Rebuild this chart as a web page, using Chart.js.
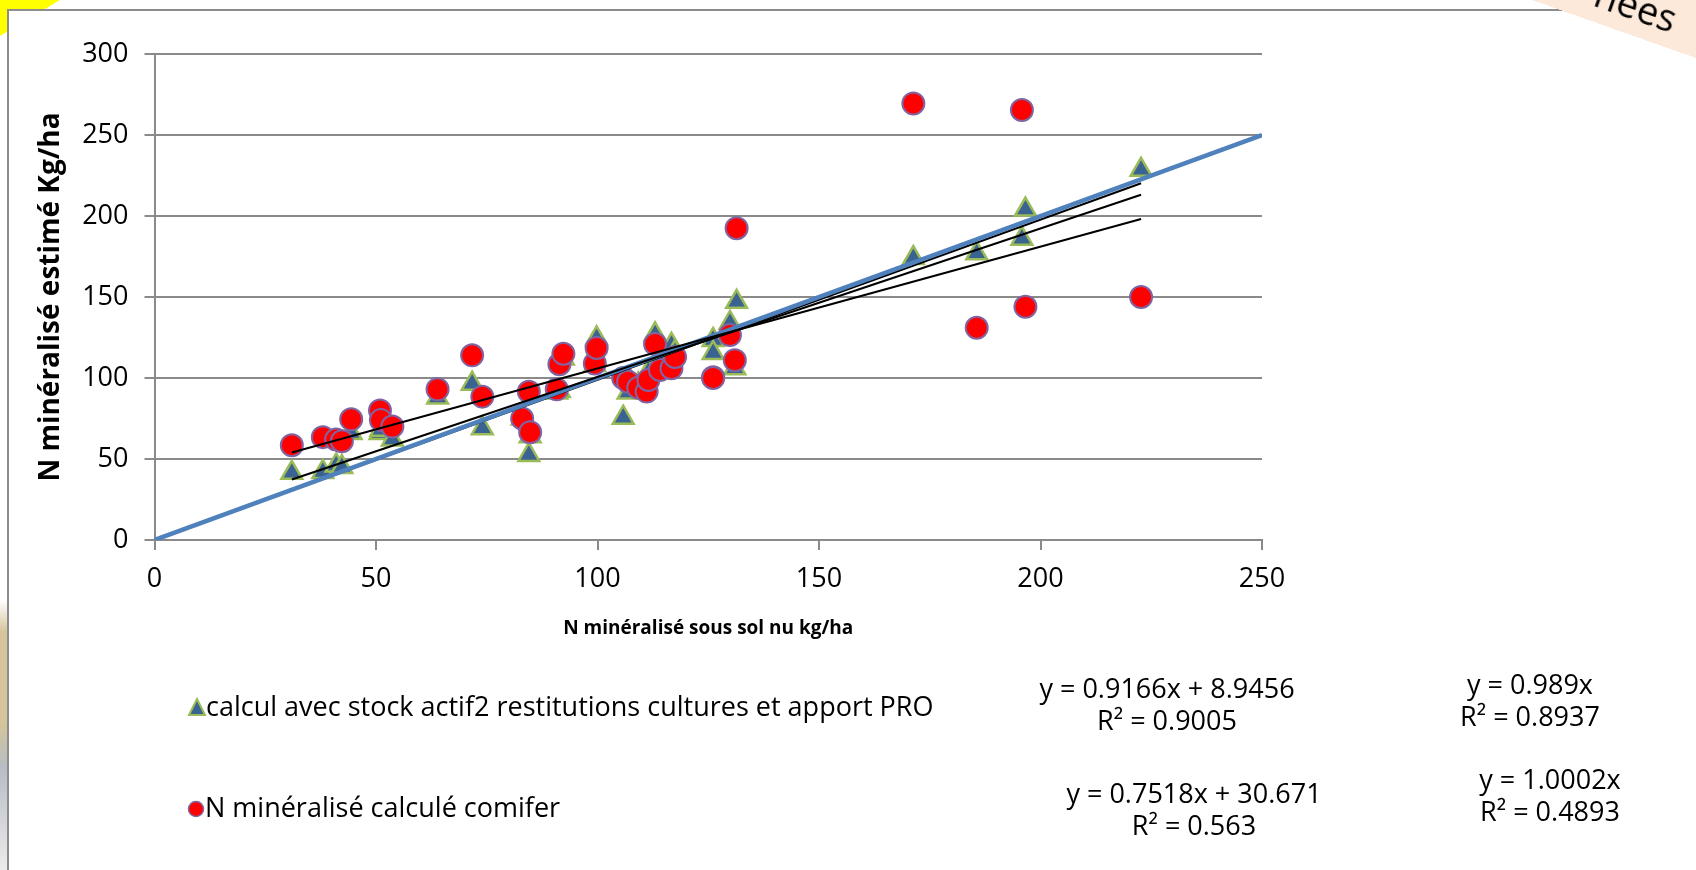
<!DOCTYPE html>
<html lang="fr">
<head>
<meta charset="utf-8">
<title>N minéralisé estimé vs sol nu</title>
<script src="https://cdn.jsdelivr.net/npm/chart.js@4.4.1/dist/chart.umd.min.js"></script>
<style>
  html, body { margin: 0; padding: 0; background: #fff; overflow: hidden; }
  #page { position: relative; width: 1696px; height: 870px; overflow: hidden; background: #fff; }
  #corner { position: absolute; left: 0; top: 0; width: 80px; height: 40px; background: #ffff00;
            clip-path: polygon(0 0, 60px 0, 0 36px); }
  #sideStrip { position: absolute; left: 0; top: 600px; width: 9px; height: 270px;
               background: linear-gradient(#fff 0%, #d6c49a 12%, #d6c49a 45%, #b8bcc4 62%, #ececec 100%); }
  #frame { position: absolute; left: 7px; top: 9px; width: 1800px; height: 1000px;
           border: 2px solid #8c8c8c; background: #fff; }
  #banner { position: absolute; left: 1532px; top: -120px; width: 300px; height: 120px;
            background: #fde9da; transform-origin: 0 100%; transform: rotate(19.5deg); z-index: 5; }
  #banner span { position: absolute; left: 58px; bottom: 4px; font: 38px "Open Sans", sans-serif; color: #000; }
  #chart { position: absolute; left: 0; top: 0; z-index: 2; }
</style>
</head>
<body>
<div id="page">
  <div id="corner"></div>
  <div id="sideStrip"></div>
  <div id="frame"></div>
  <div id="banner"><span>nées</span></div>
  <canvas id="chart" width="1696" height="870"></canvas>
</div>
<script>
// N minéralisé sous sol nu (kg/ha) - shared x for both series
const xSolNu = [31, 38, 41, 42.3, 44.4, 50.9, 51.1, 53.7, 63.9, 71.7, 74, 83, 84.5, 84.8,
  90.8, 91.4, 92.3, 99.4, 99.8, 105.8, 106.9, 109.2, 111.1, 111.5, 113, 114.1, 116.7, 117.5,
  126.1, 126.1, 129.9, 131, 131.4, 171.3, 185.6, 195.8, 196.6, 222.7];
// calcul avec stock actif2 restitutions cultures et apport PRO
const yStockActif = [41.5, 42, 46, 45, 66, 66, 68, 62, 88, 96.5, 69, 75, 52.5, 64,
  91, 92, 112, 108, 124.5, 75.5, 91, 96, 100, 104, 127, 110, 120.5, 116,
  123.5, 115.5, 134, 106, 147, 174, 177, 186, 204, 228.5];
// N minéralisé calculé comifer
const yComifer = [58.5, 63.5, 62, 61, 74.5, 80, 74, 70, 93, 114, 88.5, 75, 91.5, 66.5,
  93, 108.5, 115, 109, 118.5, 100, 97.7, 94, 91.6, 98.8, 121, 105, 106, 113,
  100.5, 100, 126.5, 111, 192.5, 269.5, 131, 265.5, 144, 150];

const seriesNames = ['calcul avec stock actif2 restitutions cultures et apport PRO', 'N minéralisé calculé comifer'];

// trendlines (Excel): linear and linear through origin
const trendSlopes = [0.9166, 0.7518, 0.989, 1.0002];
const trendIntercepts = [8.9456, 30.671, 0, 0];
const trendR2 = ['0.9005', '0.563', '0.8937', '0.4893'];

// 1:1 reference line
const refLineX = [0, 250];

const xTicksMax = 250, yTicksMax = 300, tickStep = 50;

const FONT = '"Open Sans", sans-serif';
const GRID = '#8a8a8a';

const xMin = Math.min(...xSolNu), xMax = Math.max(...xSolNu);
function trendData(i) {
  return [xMin, xMax].map(x => ({ x: x, y: trendSlopes[i] * x + trendIntercepts[i] }));
}
function eqText(i) {
  const a = trendSlopes[i], b = trendIntercepts[i];
  return b ? 'y = ' + a + 'x + ' + b : 'y = ' + a + 'x';
}

const datasets = [];
trendSlopes.forEach((s, i) => {
  datasets.push({
    label: 'trend' + i, data: trendData(i), showLine: true,
    borderColor: '#000', borderWidth: 2, pointRadius: 0,
    // through-origin trendlines sit under the 1:1 line
    order: trendIntercepts[i] ? 0 : 1.5
  });
});
datasets.push({
  label: '1:1', data: refLineX.map(v => ({ x: v, y: v })), showLine: true,
  borderColor: '#4f81bd', borderWidth: 4.5, pointRadius: 0, order: 1
});
datasets.push({
  label: seriesNames[1], data: xSolNu.map((x, i) => ({ x: x, y: yComifer[i] })),
  pointStyle: 'circle', pointRadius: 11, backgroundColor: '#ff0000',
  borderColor: '#8064a2', borderWidth: 2, order: 2
});
datasets.push({
  label: seriesNames[0], data: xSolNu.map((x, i) => ({ x: x, y: yStockActif[i] })),
  pointStyle: 'triangle', pointRadius: 12, backgroundColor: '#3a6391',
  borderColor: '#9bbb59', borderWidth: 2.5, order: 3
});

// legend + trendline equations under the plot
const notesPlugin = {
  id: 'notes',
  afterDraw(chart) {
    const ctx = chart.ctx;
    ctx.save();
    // triangle marker
    ctx.beginPath();
    ctx.moveTo(197, 699); ctx.lineTo(205, 715); ctx.lineTo(189, 715); ctx.closePath();
    ctx.fillStyle = '#3a6391'; ctx.fill();
    ctx.lineWidth = 2; ctx.strokeStyle = '#9bbb59'; ctx.stroke();
    // circle marker
    ctx.beginPath();
    ctx.arc(196, 809, 7.5, 0, Math.PI * 2);
    ctx.fillStyle = '#ff0000'; ctx.fill();
    ctx.lineWidth = 1.5; ctx.strokeStyle = '#8064a2'; ctx.stroke();

    ctx.fillStyle = '#000';
    ctx.font = '27px ' + FONT;
    ctx.textBaseline = 'middle';
    ctx.textAlign = 'left';
    ctx.fillText(seriesNames[0], 206, 708);
    ctx.fillText(seriesNames[1], 205, 809);

    const eqPos = [[1167, 690], [1194, 795], [1530, 686], [1550, 781]];
    ctx.textAlign = 'center';
    trendSlopes.forEach((s, i) => {
      const [x, y] = eqPos[i];
      ctx.fillText(eqText(i), x, y);
      ctx.fillText('R² = ' + trendR2[i], x, y + 32);
    });
    ctx.restore();
  }
};

new Chart(document.getElementById('chart'), {
  type: 'scatter',
  data: { datasets: datasets },
  plugins: [notesPlugin],
  options: {
    responsive: false,
    animation: false,
    layout: { padding: { left: 0, top: 54, right: 434, bottom: 220 } },
    plugins: { legend: { display: false }, tooltip: { enabled: false } },
    scales: {
      x: {
        type: 'linear', min: 0, max: xTicksMax,
        ticks: { stepSize: tickStep, color: '#000', font: { family: FONT, size: 27 }, padding: 13 },
        grid: { drawOnChartArea: false, drawTicks: true, tickLength: 10, color: GRID, lineWidth: 2 },
        border: { display: true, color: GRID, width: 2 },
        title: { display: true, text: 'N minéralisé sous sol nu kg/ha', color: '#000',
                 font: { family: FONT, size: 19, weight: 'bold' }, padding: { top: 0, bottom: 10 } },
        afterFit(s) { s.height = 110; }
      },
      y: {
        type: 'linear', min: 0, max: yTicksMax,
        ticks: { stepSize: tickStep, color: '#000', font: { family: FONT, size: 27 }, padding: 16 },
        grid: { drawOnChartArea: true, drawTicks: true, tickLength: 10, color: GRID, lineWidth: 2 },
        border: { display: true, color: GRID, width: 2 },
        title: { display: true, text: 'N minéralisé estimé Kg/ha', color: '#000',
                 font: { family: FONT, size: 28, weight: 'bold' }, padding: { top: 34, bottom: 0 } },
        afterFit(s) { s.width = 154.5; }
      }
    }
  }
});
</script>
</body>
</html>
